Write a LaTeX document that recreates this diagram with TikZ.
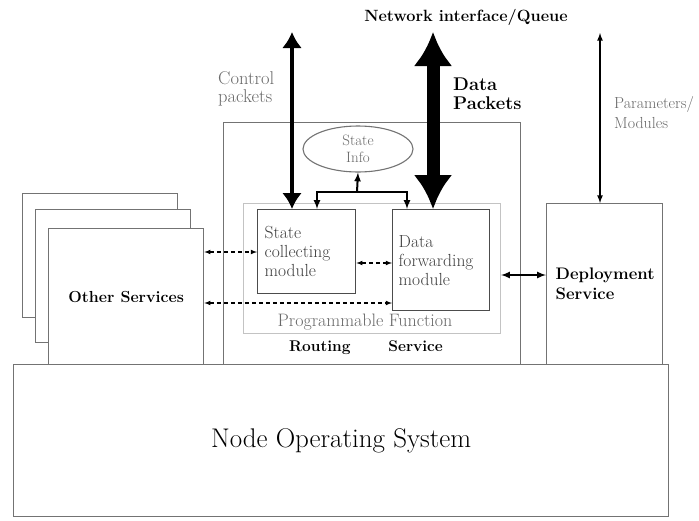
\documentclass[tikz,border=0pt]{standalone}
\usepackage{fontspec}
\usepackage{tikz}
\usetikzlibrary{arrows, arrows.meta, shapes}
\tikzset{>=latex}
\definecolor{boxgray}{RGB}{115,115,115}
\definecolor{pfgray}{RGB}{195,195,195}
\definecolor{lightlabel}{RGB}{105,105,105}
\tikzset{
  svcbox/.style={draw=boxgray, line width=1.3pt, fill=white, inner sep=0pt, anchor=north west},
  modbox/.style={draw=black!70, line width=1.3pt, fill=white, align=left, anchor=north west,
    font=\fontsize{17.5}{19}\selectfont, text=black!75},
  dashlink/.style={<->, dash pattern=on 4pt off 3pt, line width=1.1pt},
  boldlabel/.style={font=\fontsize{16}{20}\selectfont\bfseries}
}

\begin{document}
\begin{tikzpicture}[x=1pt, y=-1pt]
\useasboundingbox (0,0) rectangle (699,520);
\node[svcbox, minimum width=155pt, minimum height=124pt] (os3) at (22,193) {};
\node[svcbox, minimum width=155pt, minimum height=133pt] (os2) at (35,209) {};
\node[svcbox, boldlabel, minimum width=155pt, minimum height=136pt] (os1) at (48,228) {Other Services};
\node[svcbox, minimum width=297pt, minimum height=242pt] (rs) at (223,122) {};
\node[svcbox, align=left, text width=98pt, inner xsep=9pt, minimum width=116pt, minimum height=161pt, font=\fontsize{16.7}{20}\selectfont\bfseries] (dep) at (546,203) {Deployment\\Service};
\node[svcbox, minimum width=655pt, minimum height=152pt, font=\fontsize{27}{30}\selectfont] (nos) at (13,364) {Node Operating System};
\node[draw=pfgray, line width=1pt, anchor=north west, minimum width=257pt, minimum height=130pt] (pf) at (243,203) {};
\node[modbox, text width=84pt, inner xsep=7pt, minimum width=96pt, minimum height=84pt] (scm) at (257,209) {State\\collecting\\module};
\node[modbox, text width=85pt, inner xsep=6pt, minimum width=95pt, minimum height=101pt] (dfm) at (392,209) {Data\\forwarding\\module};
\node[ellipse, draw=boxgray, line width=1.1pt, minimum width=110pt, minimum height=46pt, inner sep=0pt, align=center, text=lightlabel, font=\fontsize{15}{17}\selectfont] (info) at (358,149) {State\\Info};

\node[text=lightlabel, font=\fontsize{18}{20}\selectfont] (pflabel) at (365,322) {Programmable Function};
\node[font=\fontsize{15.5}{18}\selectfont\bfseries] (routing) at (366,348) {Routing\hspace{32pt} Service};
\node[font=\fontsize{16.3}{18}\selectfont\bfseries] (netq) at (466,17) {Network interface/Queue};
\node[anchor=west, align=left, inner sep=0pt, text=lightlabel, font=\fontsize{18.5}{18}\selectfont] (ctrl) at (218,89) {Control\\packets};
\node[anchor=west, align=left, inner sep=0pt, font=\fontsize{18.4}{19}\selectfont\bfseries] (datap) at (453,94) {Data\\Packets};
\node[anchor=west, align=left, inner sep=0pt, text=lightlabel, font=\fontsize{16}{20}\selectfont] (params) at (614,113) {Parameters/\\Modules};

\coordinate (ctrltop) at (292,32);
\coordinate (datatop) at (433,32);
\coordinate (partop) at (600,33);
\coordinate (fork) at (357,192);

\draw[{Latex[length=16pt,width=20pt]}-{Latex[length=16pt,width=20pt]}, line width=4pt] (ctrltop) -- (ctrltop |- scm.north);
\draw[{Latex[length=34pt,width=39pt]}-{Latex[length=34pt,width=39pt]}, line width=13pt] (datatop) -- (datatop |- dfm.north);
\draw[<->, line width=1.6pt] (partop) -- (partop |- dep.north);
\draw[<-, line width=2pt] (info.south) -- (fork);
\draw[<->, line width=2pt] (scm.north -| 317,0) |- (fork) -| (dfm.north -| 407,0);
\draw[dashlink] (os1.east |- 0,252) -- (scm.west |- 0,252);
\draw[dashlink] (scm.east |- 0,263) -- (dfm.west |- 0,263);
\draw[dashlink] (os1.east |- 0,303) -- (dfm.west |- 0,303);
\draw[<->, line width=2pt] (pf.east |- 0,275) -- (dep.west |- 0,275);
\end{tikzpicture}
\end{document}
